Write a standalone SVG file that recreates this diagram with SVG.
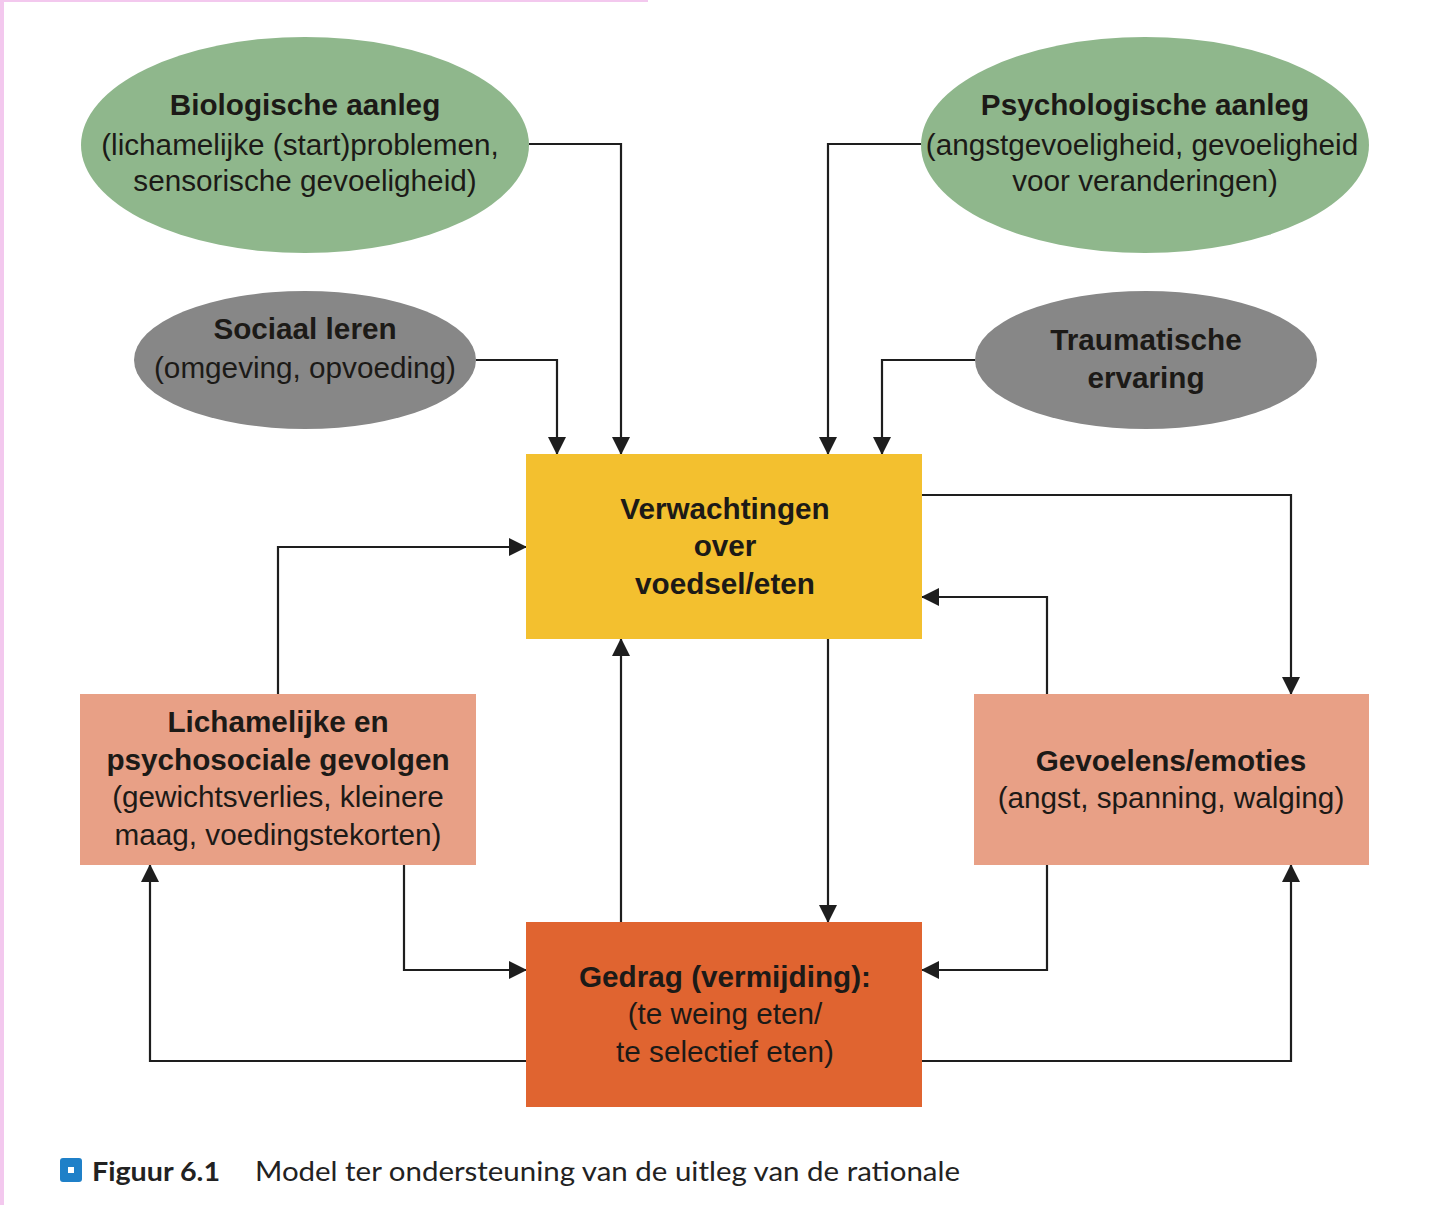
<svg xmlns="http://www.w3.org/2000/svg" width="1450" height="1205" viewBox="0 0 1450 1205">
<defs>
<style>
.t{font-family:"Liberation Sans",Arial,sans-serif;font-size:29.7px;fill:#1c1a17;text-anchor:middle}
.b{font-weight:bold}
.ln{fill:none;stroke:#1e1e1e;stroke-width:2.2}
.cap{font-family:Lato,"Liberation Sans",sans-serif;font-size:27px;fill:#222}
</style>
<marker id="a" viewBox="0 0 18 18" refX="17" refY="9" markerWidth="18" markerHeight="18" markerUnits="userSpaceOnUse" orient="auto">
<path d="M0,0 L18,9 L0,18 z" fill="#1e1e1e"/>
</marker>
</defs>
<rect width="1450" height="1205" fill="#fff"/>
<rect x="0" y="0" width="4" height="1205" fill="#f3c8ee"/>
<rect x="0" y="0" width="648" height="2" fill="#f3c8ee"/>

<g id="connectors">
<path class="ln" d="M529,144 H621 V454" marker-end="url(#a)"/>
<path class="ln" d="M476,360 H557 V454" marker-end="url(#a)"/>
<path class="ln" d="M921,144 H828 V454" marker-end="url(#a)"/>
<path class="ln" d="M975,360 H882 V454" marker-end="url(#a)"/>
<path class="ln" d="M278,694 V547 H526" marker-end="url(#a)"/>
<path class="ln" d="M922,495 H1291 V694" marker-end="url(#a)"/>
<path class="ln" d="M1047,694 V597 H922" marker-end="url(#a)"/>
<path class="ln" d="M828,639 V922" marker-end="url(#a)"/>
<path class="ln" d="M621,922 V639" marker-end="url(#a)"/>
<path class="ln" d="M404,865 V970 H526" marker-end="url(#a)"/>
<path class="ln" d="M1047,865 V970 H922" marker-end="url(#a)"/>
<path class="ln" d="M526,1061 H150 V865" marker-end="url(#a)"/>
<path class="ln" d="M922,1061 H1291 V865" marker-end="url(#a)"/>
</g>

<g id="bio">
<ellipse cx="305" cy="145" rx="224" ry="108" fill="#8fb78c"/>
<text class="t b" x="305" y="115">Biologische aanleg</text>
<text class="t" x="300" y="155">(lichamelijke (start)problemen,</text>
<text class="t" x="305" y="191">sensorische gevoeligheid)</text>
</g>

<g id="psych">
<ellipse cx="1145" cy="145" rx="224" ry="108" fill="#8fb78c"/>
<text class="t b" x="1145" y="115">Psychologische aanleg</text>
<text class="t" x="1142" y="155">(angstgevoeligheid, gevoeligheid</text>
<text class="t" x="1145" y="191">voor veranderingen)</text>
</g>

<g id="sociaal">
<ellipse cx="305" cy="360" rx="171" ry="69" fill="#878787"/>
<text class="t b" x="305" y="339">Sociaal leren</text>
<text class="t" x="305" y="378">(omgeving, opvoeding)</text>
</g>

<g id="trauma">
<ellipse cx="1146" cy="360" rx="171" ry="69" fill="#878787"/>
<text class="t b" x="1146" y="350">Traumatische</text>
<text class="t b" x="1146" y="388">ervaring</text>
</g>

<g id="verwachtingen">
<rect x="526" y="454" width="396" height="185" fill="#f3c02f"/>
<text class="t b" x="725" y="519">Verwachtingen</text>
<text class="t b" x="725" y="556">over</text>
<text class="t b" x="725" y="594">voedsel/eten</text>
</g>

<g id="lichamelijk">
<rect x="80" y="694" width="396" height="171" fill="#e8a086"/>
<text class="t b" x="278" y="732">Lichamelijke en</text>
<text class="t b" x="278" y="770">psychosociale gevolgen</text>
<text class="t" x="278" y="807">(gewichtsverlies, kleinere</text>
<text class="t" x="278" y="845">maag, voedingstekorten)</text>
</g>

<g id="gevoelens">
<rect x="974" y="694" width="395" height="171" fill="#e8a086"/>
<text class="t b" x="1171" y="771">Gevoelens/emoties</text>
<text class="t" x="1171" y="808">(angst, spanning, walging)</text>
</g>

<g id="gedrag">
<rect x="526" y="922" width="396" height="185" fill="#e06430"/>
<text class="t b" x="725" y="987">Gedrag (vermijding):</text>
<text class="t" x="725" y="1024">(te weing eten/</text>
<text class="t" x="725" y="1062">te selectief eten)</text>
</g>

<g id="caption">
<rect x="60" y="1158" width="22" height="24" rx="3" fill="#1f80c8"/>
<rect x="68" y="1167" width="6" height="6" fill="#fff"/>
<text class="cap" x="92" y="1181" font-weight="bold" textLength="128" lengthAdjust="spacingAndGlyphs">Figuur 6.1</text>
<text class="cap" x="255" y="1181" textLength="705" lengthAdjust="spacingAndGlyphs">Model ter ondersteuning van de uitleg van de rationale</text>
</g>
</svg>
